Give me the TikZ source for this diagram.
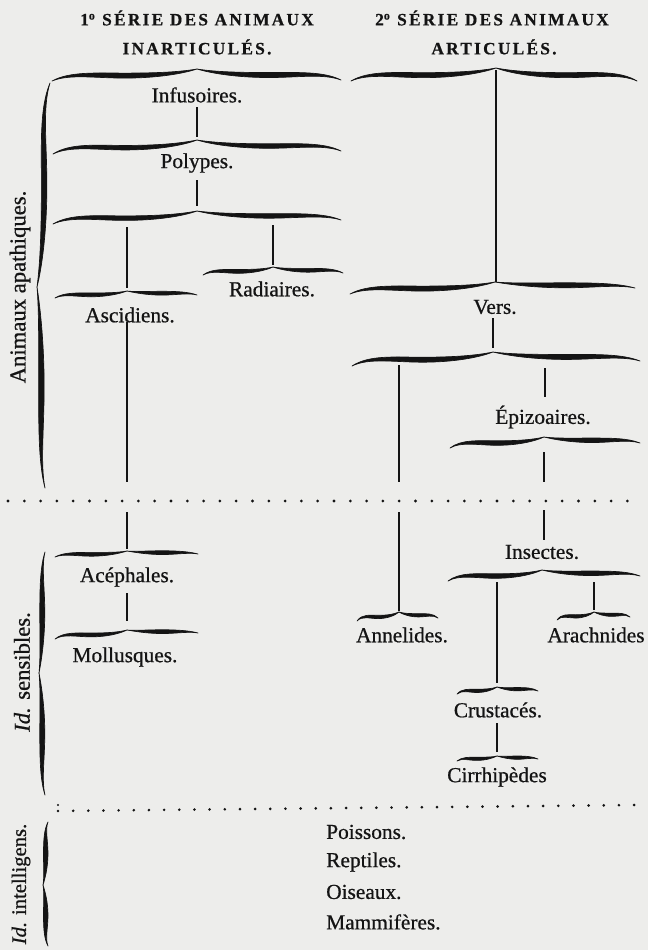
\documentclass[tikz,border=0pt]{standalone}
\usepackage{fontspec}
\setmainfont{Liberation Serif}
\newfontfamily\lblfont[FakeBold=0.7]{Liberation Serif}
\newfontfamily\hdrfont[LetterSpace=13,FakeBold=0.6]{Liberation Serif}
\definecolor{paper}{RGB}{237,237,235}
\definecolor{ink}{RGB}{20,20,20}
\tikzset{
  lbl/.style={font=\lblfont\fontsize{16}{18}\selectfont, text=ink, inner sep=0pt},
  sidelbl/.style={font=\lblfont\fontsize{17}{19}\selectfont, text=ink, inner sep=0pt, rotate=90},
  hdr/.style={font=\hdrfont\bfseries\fontsize{13}{15}\selectfont, text=ink, inner sep=0pt},
  stem/.style={draw=ink, line width=1.8pt},
  bracefill/.style={fill=ink, draw=ink, line width=0.5pt, line join=round},
  dotmark/.style={fill=ink}
}
% one arm of an old-style brace: end (#1,#2), tip (#3,#4), thickness #5
\newcommand\zqArm[5]{%
  \pgfmathsetmacro\zqL{#3-#1}%
  \pgfmathsetmacro\zqh{#2-#4}%
  \pgfmathsetmacro\zqxm{#1+0.5*\zqL}%
  \pgfmathsetmacro\zqym{#2-0.45*\zqh}%
  \pgfmathsetmacro\zqca{#1+0.12*\zqL}%
  \pgfmathsetmacro\zqcb{#2-0.8*\zqh}%
  \pgfmathsetmacro\zqcc{#1+0.3*\zqL}%
  \pgfmathsetmacro\zqyu{\zqym-0.5*#5}%
  \pgfmathsetmacro\zqyl{\zqym+0.5*#5}%
  \pgfmathsetmacro\zqcd{#1+0.72*\zqL}%
  \pgfmathsetmacro\zqce{#3-0.12*\zqL}%
  \pgfmathsetmacro\zqcf{#4+0.25*\zqh}%
  \pgfmathsetmacro\zqcg{#3-0.1*\zqL}%
  \pgfmathsetmacro\zqch{#4+0.4*\zqh}%
  \pgfmathsetmacro\zqci{#2-0.6*\zqh}%
  \filldraw[bracefill] (#1,#2) .. controls (\zqca,\zqcb) and (\zqcc,\zqyu) .. (\zqxm,\zqyu)
     .. controls (\zqcd,\zqyu) and (\zqce,\zqcf) .. (#3,#4)
     .. controls (\zqcg,\zqch) and (\zqcd,\zqyl) .. (\zqxm,\zqyl)
     .. controls (\zqcc,\zqyl) and (\zqca,\zqci) .. (#1,#2) -- cycle;
}
% brace: left end, tip, right end, thickness
\newcommand\zqBrace[7]{\zqArm{#1}{#2}{#3}{#4}{#7}\zqArm{#5}{#6}{#3}{#4}{#7}}
% vertical stem between two named coordinates
\newcommand\zqStem[4]{\coordinate (#1-top) at (#2,#3); \coordinate (#1-bot) at (#2,#4); \draw[stem] (#1-top) -- (#1-bot);}

\begin{document}
\begin{tikzpicture}[x=0.75pt,y=-0.75pt]
\fill[paper] (0,0) rectangle (648,950);
\useasboundingbox (0,0) rectangle (648,950);

% headers
\node[hdr] (h1a) at (197,18) {1\textsuperscript{o} SÉRIE DES ANIMAUX};
\node[hdr] (h1b) at (197,47) {INARTICULÉS.};
\node[hdr] (h2a) at (492,18) {2\textsuperscript{o} SÉRIE DES ANIMAUX};
\node[hdr] (h2b) at (494,47) {ARTICULÉS.};

% side labels
\node[sidelbl] (apath) at (20,287) {Animaux apathiques.};
\node[sidelbl] (sens) at (22,672) {\textit{Id.} sensibles.};
\node[sidelbl, font=\lblfont\fontsize{15.5}{17}\selectfont] (intel) at (21,884) {\textit{Id.} intelligens.};

% vertical braces (tip pointing left)
\begin{scope}[cm={0,-1,-1,0,(0,0)}]
  \zqBrace{83}{50}{287}{37}{488}{45}{5.5}
  \zqBrace{552}{45}{673}{39}{795}{45}{5}
  \zqBrace{822}{48}{885}{43}{946}{48}{4.5}
\end{scope}

% horizontal braces
\zqBrace{52}{81}{197}{69}{341}{80}{5}
\zqBrace{351}{81}{496}{68}{637}{81}{5}
\zqBrace{53}{154}{197}{140}{341}{151}{4.5}
\zqBrace{53}{224}{197}{211}{341}{220}{4.5}
\zqBrace{203}{275}{273}{267}{343}{273}{3.8}
\zqBrace{55}{298}{127}{291}{197}{295}{3.8}
\zqBrace{350}{294}{495}{282}{635}{288}{5}
\zqBrace{352}{366}{493}{352}{640}{361}{5}
\zqBrace{450}{448}{544}{437}{640}{443}{4.5}
\zqBrace{55}{557}{127}{551}{198}{554}{3.8}
\zqBrace{55}{639}{127}{630}{198}{633}{3.8}
\zqBrace{448}{581}{542}{570}{640}{576}{4.5}
\zqBrace{357}{621}{399}{612}{438}{618}{3.3}
\zqBrace{557}{620}{594}{612}{630}{617}{3.3}
\zqBrace{457}{694}{497}{687}{538}{691}{3.3}
\zqBrace{457}{761}{497}{756}{538}{759}{3.3}

% labels
\node[lbl] (infus) at (197,95) {Infusoires.};
\node[lbl] (polyp) at (197,163) {Polypes.};
\node[lbl] (radia) at (272,289) {Radiaires.};
\node[lbl] (ascid) at (130,315) {Ascidiens.};
\node[lbl] (vers) at (495,307) {Vers.};
\node[lbl] (epizo) at (543,417) {Épizoaires.};
\node[lbl] (aceph) at (127,577) {Acéphales.};
\node[lbl] (mollu) at (125,657) {Mollusques.};
\node[lbl] (insec) at (542,552) {Insectes.};
\node[lbl] (annel) at (402,635) {Annelides.};
\node[lbl] (arach) at (596,635) {Arachnides};
\node[lbl] (crust) at (498,710) {Crustacés.};
\node[lbl] (cirrh) at (497,777) {Cirrhipèdes};
\node[lbl, anchor=west] (poiss) at (326,832) {Poissons.};
\node[lbl, anchor=west] (repti) at (326,862) {Reptiles.};
\node[lbl, anchor=west] (oisea) at (326,892) {Oiseaux.};
\node[lbl, anchor=west] (mammi) at (326,922) {Mammifères.};

% stems
\zqStem{s1}{197}{107}{137}
\zqStem{s2}{197}{180}{206}
\zqStem{s3}{127}{227}{288}
\zqStem{s4}{273}{225}{265}
\zqStem{s5}{127}{322}{482}
\zqStem{s6}{127}{512}{549}
\zqStem{s7}{127}{593}{621}
\zqStem{s8}{496}{70}{282}
\zqStem{s9}{493}{318}{348}
\zqStem{s10}{399}{365}{482}
\zqStem{s11}{545}{368}{397}
\zqStem{s12}{544}{452}{482}
\zqStem{s13}{399}{512}{611}
\zqStem{s14}{544}{510}{540}
\zqStem{s15}{497}{582}{683}
\zqStem{s16}{594}{582}{610}
\zqStem{s17}{497}{723}{752}

% dotted separators
\foreach \i in {0,...,38} \fill[dotmark] ({8+16.3*\i},501) circle (1.15pt);
\foreach \i in {0,...,38} \fill[dotmark] ({58+15.16*\i},{811-0.158*\i}) circle (1.1pt);
\fill[dotmark] (58,805) circle (0.9pt);
\end{tikzpicture}
\end{document}
